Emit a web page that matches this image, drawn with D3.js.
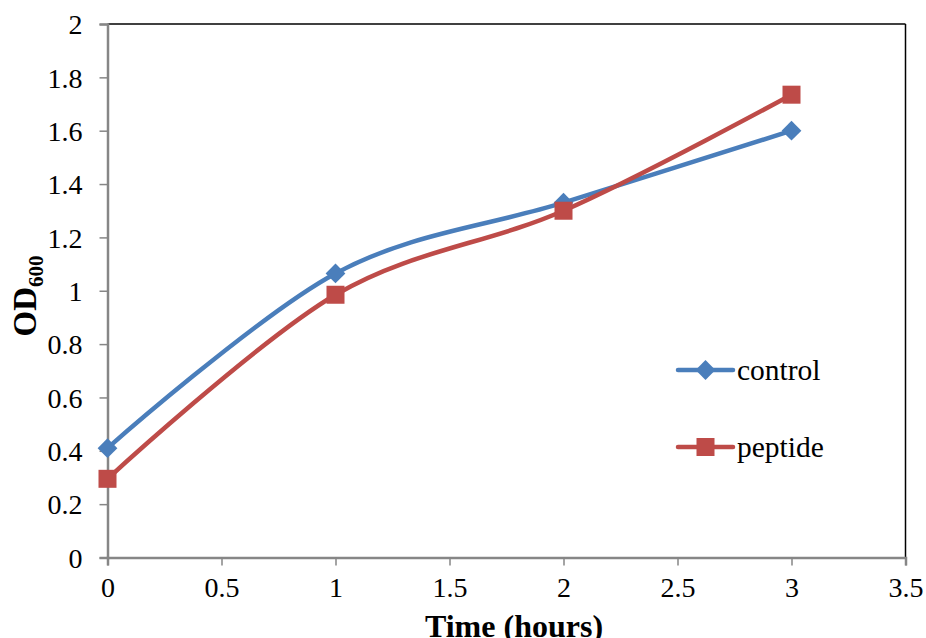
<!DOCTYPE html>
<html><head><meta charset="utf-8">
<script src="https://cdn.jsdelivr.net/npm/d3@7"></script>
<style>body{margin:0;background:#fff;}svg{display:block;font-family:"Liberation Serif","Times New Roman",serif;}</style>
</head><body>
<svg id="chart" width="926" height="638"></svg>
<script>
const hours = [0, 1, 2, 3];
const control = [0.41, 1.065, 1.33, 1.60];
const peptide = [0.295, 0.985, 1.30, 1.735];
const xTicks = [0, 0.5, 1, 1.5, 2, 2.5, 3, 3.5];
const yTicks = [0, 0.2, 0.4, 0.6, 0.8, 1, 1.2, 1.4, 1.6, 1.8, 2];
const seriesNames = ["control", "peptide"];

const svg = d3.select("#chart");
const L = 107.5, R = 905.5, T = 24, B = 557.5;
const x = d3.scaleLinear().domain([0, 3.5]).range([L, R]);
const y = d3.scaleLinear().domain([0, 2]).range([B, T]);

svg.append("line").attr("x1", L).attr("x2", R).attr("y1", T).attr("y2", T).attr("stroke", "#000").attr("stroke-width", 1.5);
svg.append("line").attr("x1", R).attr("x2", R).attr("y1", T).attr("y2", B).attr("stroke", "#000").attr("stroke-width", 1.5);

const fmt = d => String(d);
const xAxis = svg.append("g").attr("transform", `translate(0,${B})`)
  .call(d3.axisBottom(x).tickValues(xTicks).tickFormat(fmt).tickSize(8).tickPadding(12));
const yAxis = svg.append("g").attr("transform", `translate(${L},0)`)
  .call(d3.axisLeft(y).tickValues(yTicks).tickFormat(fmt).tickSize(8).tickPadding(17));
[xAxis, yAxis].forEach(a => {
  a.select(".domain").attr("stroke", "#868686").attr("stroke-width", 2.5);
  a.selectAll(".tick line").attr("stroke", "#868686").attr("stroke-width", 1.5);
  a.selectAll("text").attr("font-family", "Liberation Serif, serif").attr("font-size", 28).attr("fill", "#000");
});
yAxis.selectAll("text").attr("dy", "0.35em");

const colors = ["#4A7EBB", "#BE4B48"];
const data = [control, peptide];
const line = d3.line().x((d, i) => x(hours[i])).y(d => y(d)).curve(d3.curveCardinal.tension(0));
data.forEach((vals, k) => {
  svg.append("path").datum(vals).attr("d", line).attr("fill", "none")
    .attr("stroke", colors[k]).attr("stroke-width", 4.5).attr("stroke-linejoin", "round");
});
function drawMarker(k, cx, cy) {
  if (k === 0) {
    svg.append("rect").attr("x", -7).attr("y", -7).attr("width", 14).attr("height", 14)
      .attr("transform", `translate(${cx},${cy}) rotate(45)`).attr("fill", colors[0]);
  } else {
    svg.append("rect").attr("x", cx - 9).attr("y", cy - 9).attr("width", 18).attr("height", 18)
      .attr("fill", colors[1]);
  }
}
data.forEach((vals, k) => vals.forEach((v, i) => drawMarker(k, x(hours[i]), y(v))));

const legY = [370, 447];
seriesNames.forEach((name, k) => {
  svg.append("line").attr("x1", 678).attr("x2", 733).attr("y1", legY[k]).attr("y2", legY[k])
    .attr("stroke", colors[k]).attr("stroke-width", 4.5).attr("stroke-linecap", "round");
  drawMarker(k, 705.5, legY[k]);
  svg.append("text").attr("x", 737).attr("y", legY[k] + 10).attr("font-size", 29.5).text(name);
});

svg.append("text").attr("x", 514).attr("y", 637).attr("text-anchor", "middle")
  .attr("font-size", 32).attr("font-weight", "bold").text("Time (hours)");
const yt = svg.append("text").attr("transform", "translate(36,296) rotate(-90)")
  .attr("text-anchor", "middle").attr("font-size", 33).attr("font-weight", "bold");
yt.append("tspan").text("OD");
yt.append("tspan").attr("font-size", 21).attr("dy", 7).text("600");
</script>
</body></html>
